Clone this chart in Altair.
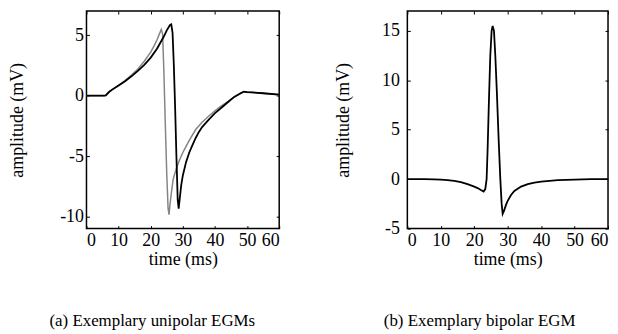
import altair as alt
import pandas as pd

# ---- data ----
uni_black_t = [0, 5.5, 6.0, 7, 8, 10, 12, 14, 16, 18, 20, 22, 24, 25, 26, 26.4, 26.8, 27.2, 27.6, 28.0, 28.4,
               28.7, 29.0, 29.5, 30, 31, 32, 33, 34, 35, 36, 38, 40, 42, 44, 46, 48, 49, 50, 55, 60]
uni_black_v = [0, 0, 0.02, 0.3, 0.5, 0.85, 1.2, 1.6, 2.05, 2.55, 3.15, 3.9, 4.85, 5.4, 5.85, 5.9, 5.2, 2.5, -1.0,
               -5.0, -8.6, -9.35, -8.6, -7.4, -6.6, -5.5, -4.7, -4.1, -3.5, -3.0, -2.6, -2.0, -1.45, -1.0, -0.55,
               -0.1, 0.2, 0.33, 0.3, 0.2, 0.08]

uni_gray_t = [0, 5.5, 6.0, 7, 8, 10, 12, 14, 16, 18, 20, 21, 22, 23, 23.3, 23.7, 24.1, 24.5, 25.0, 25.4, 25.7,
              26.0, 26.5, 27, 28, 29, 30, 31, 32, 34, 36, 38, 40, 42, 44, 46, 48, 49, 50, 55, 60]
uni_gray_v = [0, 0, 0.02, 0.3, 0.5, 0.85, 1.25, 1.7, 2.2, 2.85, 3.6, 4.1, 4.65, 5.3, 5.48, 5.1, 2.0, -2.0, -6.5,
              -9.3, -9.85, -9.0, -7.9, -6.9, -6.0, -5.3, -4.7, -4.2, -3.7, -2.8, -2.2, -1.7, -1.25, -0.85, -0.5,
              -0.1, 0.2, 0.33, 0.3, 0.2, 0.08]

bip_t = [0, 5, 8, 10, 12, 14, 16, 18, 20, 21, 22, 22.8, 23.3, 23.7, 24.0, 24.4, 24.8, 25.2, 25.5, 25.9, 26.3,
         26.8, 27.3, 27.8, 28.2, 28.5, 28.9, 29.5, 30, 31, 32, 34, 36, 38, 40, 45, 50, 55, 60]
bip_v = [0, 0, -0.02, -0.05, -0.1, -0.18, -0.3, -0.5, -0.75, -0.9, -1.1, -1.25, -1.0, 0.0, 3.0, 8.0, 12.5, 15.0,
         15.5, 15.0, 12.5, 8.5, 4.0, 0.0, -2.5, -3.5, -3.2, -2.6, -2.2, -1.6, -1.2, -0.75, -0.5, -0.35, -0.25,
         -0.1, -0.04, 0, 0]

x_ticks = [0, 10, 20, 30, 40, 50, 60]
uni_y_ticks = [-10, -5, 0, 5]
bip_y_ticks = [-5, 0, 5, 10, 15]
uni_y_domain = [-11, 7]
bip_y_domain = [-5, 17]

FONT = "'Liberation Serif', 'Times New Roman', Times, serif"
LABEL_EXPR = "datum.value < 0 ? '-' + abs(datum.value) : '' + datum.value"

uni_df = pd.concat([
    pd.DataFrame({"t": uni_gray_t, "v": uni_gray_v, "s": "a_gray"}),
    pd.DataFrame({"t": uni_black_t, "v": uni_black_v, "s": "b_black"}),
])
bip_df = pd.DataFrame({"t": bip_t, "v": bip_v, "s": "b_black"})


def panel(df, ydom, yticks, w, h, caption, lp, tp, cdx):
    xs = alt.Scale(domain=[0, 60], nice=False, zero=False)
    ys = alt.Scale(domain=ydom, nice=False, zero=False)
    main = alt.Chart(df).mark_line(clip=True).encode(
        x=alt.X("t:Q", scale=xs, axis=alt.Axis(
            orient="bottom", values=x_ticks, offset=-3, tickSize=3, labelPadding=3,
            domain=False, grid=False, title="time (ms)", titlePadding=1)),
        y=alt.Y("v:Q", scale=ys, axis=alt.Axis(
            orient="left", values=yticks, offset=-3, tickSize=3, labelPadding=lp,
            labelExpr=LABEL_EXPR,
            domain=False, grid=False, title="amplitude (mV)", titlePadding=tp)),
        color=alt.Color("s:N", scale=alt.Scale(domain=["a_gray", "b_black"],
                                              range=["#858585", "#000000"]), legend=None),
        strokeWidth=alt.StrokeWidth("s:N", scale=alt.Scale(domain=["a_gray", "b_black"],
                                                           range=[1.5, 1.8]), legend=None),
    )
    ticks = alt.Chart(df).mark_point(opacity=0, size=1).encode(
        x=alt.X("t:Q", scale=xs, axis=alt.Axis(
            orient="top", values=x_ticks, offset=-3, tickSize=3, labels=False,
            domain=False, grid=False, title=None)),
        y=alt.Y("v:Q", scale=ys, axis=alt.Axis(
            orient="right", values=yticks, offset=-3, tickSize=3, labels=False,
            domain=False, grid=False, title=None)),
    )
    return alt.layer(main, ticks).resolve_axis(x="independent", y="independent").properties(
        width=w, height=h,
        title=alt.TitleParams(caption, orient="bottom", font=FONT, fontSize=17,
                              fontWeight="normal", color="black", offset=45,
                              anchor="middle", frame="bounds", dx=cdx),
    )


left = panel(uni_df, uni_y_domain, uni_y_ticks, 194, 219, "(a) Exemplary unipolar EGMs", 3, 33, 8)
right = panel(bip_df, bip_y_domain, bip_y_ticks, 202, 219, "(b) Exemplary bipolar EGM", 8, 29, 8)

chart = alt.hconcat(left, right, spacing=53).properties(
    padding={"left": 0, "top": 0, "right": 0, "bottom": 0}
).configure_view(
    stroke="black", strokeWidth=1.5
).configure_axis(
    labelFont=FONT, titleFont=FONT, labelFontSize=18, titleFontSize=18,
    titleFontWeight="normal", labelColor="black", titleColor="black",
    tickColor="black", tickWidth=1,
)

chart.save("out.html", embed_options={"renderer": "svg", "actions": False})
